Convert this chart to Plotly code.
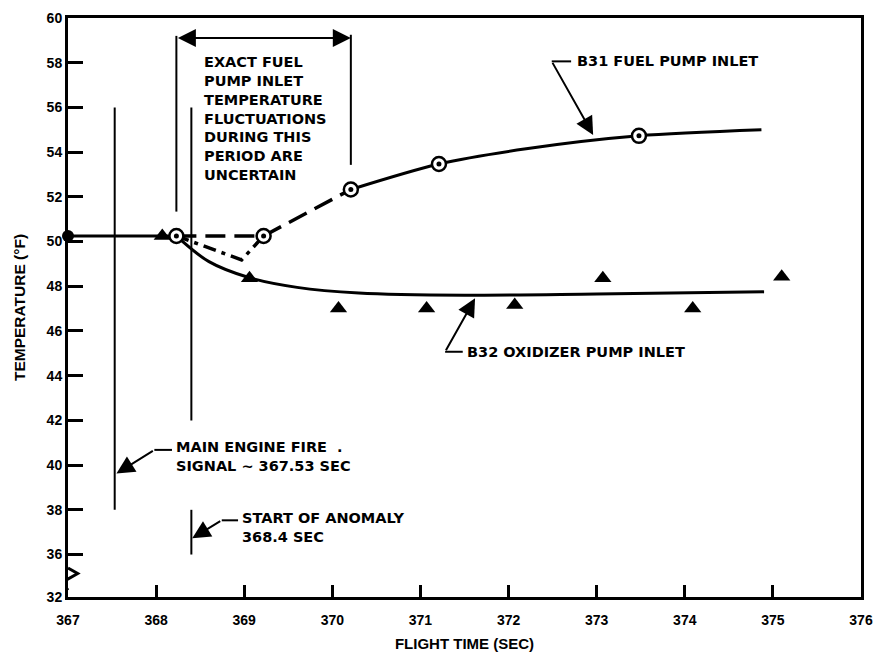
import plotly.graph_objects as go

# ---------------- data ----------------
x_tick_vals = [367, 368, 369, 370, 371, 372, 373, 374, 375, 376]
x_tick_text = ["367", "368", "369", "370", "371", "372", "373", "374", "375", "376"]
y_tick_vals = [34.1, 36, 38, 40, 42, 44, 46, 48, 50, 52, 54, 56, 58, 60]
y_tick_text = ["32", "36", "38", "40", "42", "44", "46", "48", "50", "52", "54", "56", "58", "60"]

# B31 fuel pump inlet - measured points (circles)
fuel_time = [368.23, 369.22, 370.21, 371.21, 373.48]
fuel_temp = [50.25, 50.25, 52.33, 53.47, 54.73]
# B31 faired solid curve
fuel_curve_time = [370.21, 371.21, 372.2, 373.48, 374.87]
fuel_curve_temp = [52.33, 53.47, 54.15, 54.73, 55.0]
# B31 uncertain (dashed) section
fuel_dash_time = [368.23, 369.22, 370.21]
fuel_dash_temp = [50.25, 50.25, 52.33]
# B31 alternative (dash-dot) section
fuel_dashdot_time = [368.23, 368.97, 369.22]
fuel_dashdot_temp = [50.25, 49.18, 50.25]

# common level before the anomaly
base_time = [367.0, 368.23]
base_temp = [50.25, 50.25]

# B32 oxidizer pump inlet - measured points (triangles)
ox_time = [368.07, 369.06, 370.07, 371.07, 372.07, 373.07, 374.09, 375.1]
ox_temp = [50.25, 48.36, 47.01, 47.01, 47.16, 48.36, 47.01, 48.43]
# B32 faired curve
ox_curve_time = [368.23, 368.6, 369.06, 369.6, 370.3, 371.5, 373.0, 374.9]
ox_curve_temp = [50.25, 49.1, 48.38, 47.95, 47.7, 47.6, 47.65, 47.75]
start_time = [367.0]
start_temp = [50.25]

# event marker lines: (time, y0, y1)
event_lines = [(367.53, 38, 56), (368.4, 42, 56), (368.4, 36, 38)]
bracket_lines = [(368.23, 51.34, 59.2), (370.21, 53.43, 59.25)]
bracket_arrow_y = 59.1

# annotation texts
bracket_text = "EXACT FUEL<br>PUMP INLET<br>TEMPERATURE<br>FLUCTUATIONS<br>DURING THIS<br>PERIOD ARE<br>UNCERTAIN"
b31_text = "B31 FUEL PUMP INLET"
b32_text = "B32 OXIDIZER PUMP INLET"
fire_text = "MAIN ENGINE FIRE  .<br>SIGNAL ~ 367.53 SEC"
anomaly_text = "START OF ANOMALY<br>368.4 SEC"

# leader definitions: text, text position, kink, horizontal end, arrow tip
leaders = [
    dict(text=b31_text, tx=372.75, ty=58.06, kx=372.49, ky=58.06, hx=372.71, tipx=372.96, tipy=54.77),
    dict(text=b32_text, tx=371.5, ty=45.07, kx=371.28, ky=45.07, hx=371.48, tipx=371.62, tipy=47.46),
    dict(text=fire_text, tx=368.2, ty=40.39, kx=367.98, ky=40.68, hx=368.18, tipx=367.55, tipy=39.62),
    dict(text=anomaly_text, tx=368.95, ty=37.23, kx=368.745, ky=37.53, hx=368.93, tipx=368.41, tipy=36.73),
]

AXFONT = "Liberation Sans, Arial, sans-serif"
TXFONT = "DejaVu Sans, Verdana, sans-serif"
BLACK = "#000000"
TXSIZE = 14.5


def bold(s):
    return "<b>" + s.replace("<br>", "</b><br><b>") + "</b>"


fig = go.Figure()

line_style = dict(color=BLACK, width=3)
fig.add_trace(go.Scatter(x=base_time, y=base_temp, mode="lines", line=line_style,
                         hoverinfo="skip", showlegend=False))
fig.add_trace(go.Scatter(x=ox_curve_time, y=ox_curve_temp, mode="lines",
                         line=dict(color=BLACK, width=3, shape="spline", smoothing=1.0),
                         hoverinfo="skip", showlegend=False))
fig.add_trace(go.Scatter(x=fuel_curve_time, y=fuel_curve_temp, mode="lines",
                         line=dict(color=BLACK, width=3, shape="spline", smoothing=0.8),
                         hoverinfo="skip", showlegend=False))
fig.add_trace(go.Scatter(x=fuel_dash_time, y=fuel_dash_temp, mode="lines",
                         line=dict(color=BLACK, width=3.5, dash="20px,9px"),
                         hoverinfo="skip", showlegend=False))
fig.add_trace(go.Scatter(x=fuel_dashdot_time, y=fuel_dashdot_temp, mode="lines",
                         line=dict(color=BLACK, width=3.5, dash="13px,6px,4px,6px"),
                         hoverinfo="skip", showlegend=False))

# markers
fig.add_trace(go.Scatter(x=ox_time, y=ox_temp, mode="markers",
                         marker=dict(symbol="triangle-up", size=15, color=BLACK),
                         cliponaxis=False, showlegend=False))
fig.add_trace(go.Scatter(x=start_time, y=start_temp, mode="markers",
                         marker=dict(symbol="circle", size=12, color=BLACK),
                         cliponaxis=False, showlegend=False))
fig.add_trace(go.Scatter(x=fuel_time, y=fuel_temp, mode="markers",
                         marker=dict(symbol="circle", size=14, color="white",
                                     line=dict(color=BLACK, width=2.5)),
                         cliponaxis=False, showlegend=False))
fig.add_trace(go.Scatter(x=fuel_time, y=fuel_temp, mode="markers",
                         marker=dict(symbol="circle", size=5, color=BLACK),
                         cliponaxis=False, showlegend=False, hoverinfo="skip"))

shapes = []
for t, y0, y1 in event_lines:
    shapes.append(dict(type="line", x0=t, x1=t, y0=y0, y1=y1, xref="x", yref="y",
                       line=dict(color=BLACK, width=2)))
for t, y0, y1 in bracket_lines:
    shapes.append(dict(type="line", x0=t, x1=t, y0=y0, y1=y1, xref="x", yref="y",
                       line=dict(color=BLACK, width=2)))
for ld in leaders:
    shapes.append(dict(type="line", x0=ld["kx"], x1=ld["hx"], y0=ld["ky"], y1=ld["ky"],
                       xref="x", yref="y", line=dict(color=BLACK, width=2)))

# axis break mark
shapes.append(dict(type="line", xref="x", yref="y", x0=367, x1=367, y0=34.45, y1=35.35,
                   line=dict(color="white", width=6), layer="above"))
shapes.append(dict(type="path", xref="x", yref="y", layer="above",
                   path="M 367,35.4 L 367.11,35.15 L 366.93,34.75 L 367,34.4",
                   line=dict(color=BLACK, width=3)))

annotations = []
for ld in leaders:
    annotations.append(dict(x=ld["tipx"], y=ld["tipy"], ax=ld["kx"], ay=ld["ky"],
                            xref="x", yref="y", axref="x", ayref="y", text="",
                            showarrow=True, arrowhead=2, arrowsize=1.8, arrowwidth=2,
                            arrowcolor=BLACK, standoff=0, startstandoff=0))
    annotations.append(dict(x=ld["tx"], y=ld["ty"], xref="x", yref="y", text=bold(ld["text"]),
                            showarrow=False, xanchor="left", yanchor="middle", align="left",
                            font=dict(family=TXFONT, size=TXSIZE, color=BLACK)))

annotations.append(dict(x=bracket_lines[1][0], y=bracket_arrow_y, ax=bracket_lines[0][0],
                        ay=bracket_arrow_y, xref="x", yref="y", axref="x", ayref="y",
                        text="", showarrow=True, arrowhead=2, arrowside="end+start",
                        arrowsize=1.8, arrowwidth=2, arrowcolor=BLACK,
                        standoff=0, startstandoff=0))
annotations.append(dict(x=368.52, y=55.5, xref="x", yref="y", text=bold(bracket_text),
                        showarrow=False, xanchor="left", yanchor="middle", align="left",
                        font=dict(family=TXFONT, size=TXSIZE, color=BLACK)))

fig.update_layout(
    width=880, height=654,
    margin=dict(l=68, r=19, t=18, b=57),
    paper_bgcolor="white", plot_bgcolor="white",
    font=dict(family=AXFONT, size=14, color=BLACK),
    shapes=shapes, annotations=annotations,
    showlegend=False,
    xaxis=dict(range=[367, 376], tickmode="array", tickvals=x_tick_vals,
               ticktext=[bold(t) for t in x_tick_text],
               ticks="inside", ticklen=12, tickwidth=3, tickcolor=BLACK,
               showgrid=False, zeroline=False, automargin=False, layer="below traces",
               showline=True, linecolor=BLACK, linewidth=3, mirror=True,
               ticklabelstandoff=8,
               tickfont=dict(family=AXFONT, size=14, color=BLACK),
               title=dict(text=bold("FLIGHT TIME (SEC)"), standoff=12,
                          font=dict(family=AXFONT, size=15, color=BLACK))),
    yaxis=dict(range=[34.1, 60], tickmode="array", tickvals=y_tick_vals,
               ticktext=[bold(t) for t in y_tick_text],
               ticks="inside", ticklen=15, tickwidth=3, tickcolor=BLACK,
               showgrid=False, zeroline=False, showline=True, linecolor=BLACK,
               linewidth=3, mirror=True, automargin=False, layer="below traces",
               tickfont=dict(family=AXFONT, size=14, color=BLACK),
               title=dict(text=bold("TEMPERATURE (°F)"), standoff=18,
                          font=dict(family=AXFONT, size=15.5, color=BLACK))),
)

fig.write_html("out.html")
